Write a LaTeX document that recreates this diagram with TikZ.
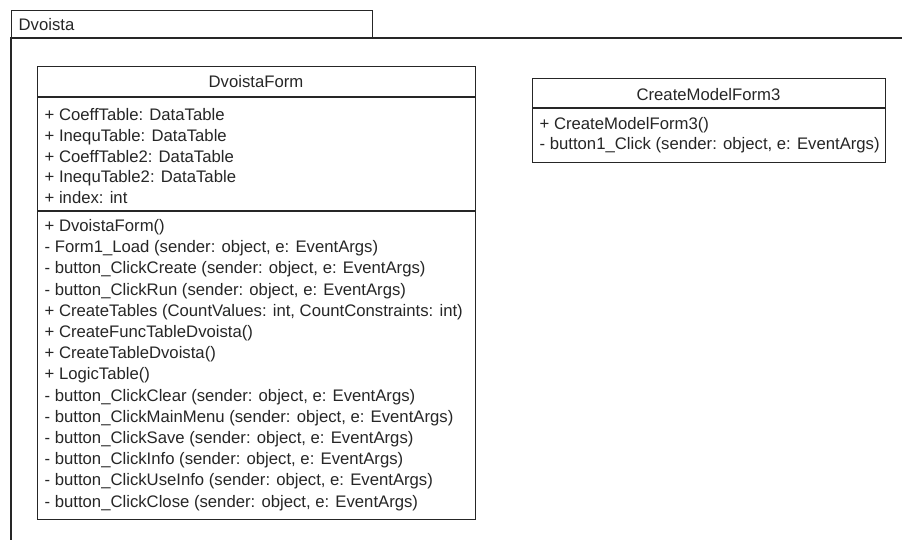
\documentclass[tikz,border=0pt]{standalone}
\usepackage{fontspec}
\setmainfont{Liberation Sans}
\begin{document}
\begin{tikzpicture}[x=1pt,y=-1pt,
  line width=1.3pt, draw=black!85,
  txt/.style={inner sep=0pt, text=black!85, font=\fontsize{16.7}{20}\selectfont},
  member/.style={txt, anchor=base west},
  title/.style={txt, anchor=base},
  boxx/.style={draw, anchor=north west, inner sep=0pt}]
\useasboundingbox (0,0) rectangle (902,540);
% package
\node[boxx, minimum width=361pt, minimum height=28pt] (tab) at (11,10) {};
\node[member] (pkgname) at (18,31) {Dvoista};
\draw (902,38) -- (11,38) -- (11,540);
% DvoistaForm
\node[boxx, minimum width=438pt, minimum height=453pt] (dvf) at (37,66) {};
\draw (37,97) -- (475,97);
\draw (37,211) -- (475,211);
\node[title] (dvft) at (256,88) {DvoistaForm};
\foreach \t [count=\i] in {{+ CoeffTable: DataTable},{+ InequTable: DataTable},{+ CoeffTable2: DataTable},{+ InequTable2: DataTable},{+ index: int}}
  \node[member] (a\i) at (44,121+20.6*\i-20.6) {\t};
\foreach \t [count=\i] in {{+ DvoistaForm()},
 {- Form1\_Load (sender: object, e: EventArgs)},
 {- button\_ClickCreate (sender: object, e: EventArgs)},
 {- button\_ClickRun (sender: object, e: EventArgs)},
 {+ CreateTables (CountValues: int, CountConstraints: int)},
 {+ CreateFuncTableDvoista()},
 {+ CreateTableDvoista()},
 {+ LogicTable()},
 {- button\_ClickClear (sender: object, e: EventArgs)},
 {- button\_ClickMainMenu (sender: object, e: EventArgs)},
 {- button\_ClickSave (sender: object, e: EventArgs)},
 {- button\_ClickInfo (sender: object, e: EventArgs)},
 {- button\_ClickUseInfo (sender: object, e: EventArgs)},
 {- button\_ClickClose (sender: object, e: EventArgs)}}
  \node[member] (m\i) at (44,231.5+21.2*\i-21.2) {\t};
% CreateModelForm3
\node[boxx, minimum width=353pt, minimum height=84pt] (cmf) at (532,78) {};
\draw (532,108) -- (885,108);
\node[title] (cmft) at (708.5,101) {CreateModelForm3};
\node[member] (c1) at (539,130) {+ CreateModelForm3()};
\node[member] (c2) at (539,150) {- button1\_Click (sender: object, e: EventArgs)};
\end{tikzpicture}
\end{document}
